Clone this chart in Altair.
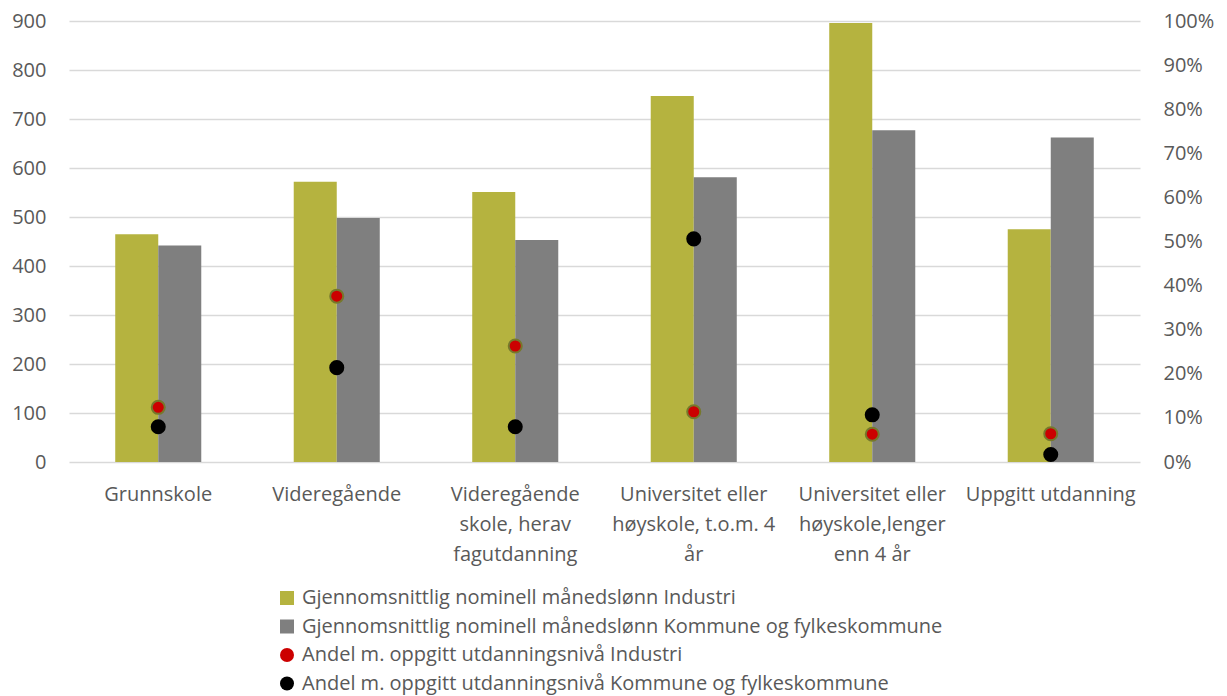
import altair as alt
import pandas as pd

category_lines = [
    ["Grunnskole"],
    ["Videregående"],
    ["Videregående", "skole, herav", "fagutdanning"],
    ["Universitet eller", "høyskole, t.o.m. 4", "år"],
    ["Universitet eller", "høyskole,lenger", "enn 4 år"],
    ["Uppgitt utdanning"],
]
categories = ["|".join(l) for l in category_lines]

lonn_industri = [465, 572, 551, 747, 896, 475]
lonn_kommune = [442, 498, 453, 581, 677, 662]
andel_industri = [0.124, 0.376, 0.263, 0.114, 0.063, 0.064]
andel_kommune = [0.080, 0.214, 0.080, 0.506, 0.107, 0.017]

series_names = [
    "Gjennomsnittlig nominell månedslønn Industri",
    "Gjennomsnittlig nominell månedslønn Kommune og fylkeskommune",
    "Andel m. oppgitt utdanningsnivå Industri",
    "Andel m. oppgitt utdanningsnivå Kommune og fylkeskommune",
]
series_colors = ["#B5B33F", "#7F7F7F", "#CC0000", "#000000"]
series_shapes = ["square", "square", "circle", "circle"]

left_ticks = list(range(0, 901, 100))
right_ticks = [i / 10 for i in range(11)]

bars = pd.DataFrame(
    [{"kategori": c, "serie": series_names[0], "verdi": v} for c, v in zip(categories, lonn_industri)]
    + [{"kategori": c, "serie": series_names[1], "verdi": v} for c, v in zip(categories, lonn_kommune)]
)
points = pd.DataFrame(
    [{"kategori": c, "serie": series_names[2], "andel": v} for c, v in zip(categories, andel_industri)]
    + [{"kategori": c, "serie": series_names[3], "andel": v} for c, v in zip(categories, andel_kommune)]
)

FONT = "Open Sans"
TXT = "#595959"

color_scale = alt.Scale(domain=series_names, range=series_colors)
shape_scale = alt.Scale(domain=series_names, range=series_shapes)

x_enc = alt.X(
    "kategori:N",
    sort=categories,
    scale=alt.Scale(paddingInner=0.518, paddingOuter=0.259),
    axis=alt.Axis(
        title=None,
        labelExpr="split(datum.value, '|')",
        labelAngle=0,
        labelFont=FONT,
        labelFontSize=20,
        labelColor=TXT,
        labelLineHeight=30,
        labelPadding=22,
        labelLimit=0,
        labelOverlap=False,
        ticks=False,
        domain=False,
    ),
)

legend = alt.Legend(
    title=None,
    orient="none",
    legendX=208,
    legendY=567,
    direction="vertical",
    labelFont=FONT,
    labelFontSize=20,
    labelColor=TXT,
    labelOffset=5,
    rowPadding=8.5,
    symbolSize=196,
    padding=0,
    labelLimit=0,
    symbolStrokeWidth=0,
)

bar_layer = alt.Chart(bars).mark_bar(width={"band": 1}).encode(
    x=x_enc,
    xOffset=alt.XOffset("serie:N", sort=series_names[:2]),
    y=alt.Y(
        "verdi:Q",
        scale=alt.Scale(domain=[0, 900], nice=False),
        axis=alt.Axis(
            title=None,
            values=left_ticks,
            labelFont=FONT,
            labelFontSize=20,
            labelColor=TXT,
            labelPadding=23,
            ticks=False,
            domain=False,
            grid=True,
            gridColor="#D9D9D9",
            gridWidth=1.3,
        ),
    ),
    color=alt.Color("serie:N", scale=color_scale, legend=legend),
)

point_layer = alt.Chart(points).mark_point(filled=True, size=170, opacity=1, strokeWidth=2).encode(
    x=x_enc,
    y=alt.Y(
        "andel:Q",
        scale=alt.Scale(domain=[0, 1], nice=False),
        axis=alt.Axis(
            title=None,
            orient="right",
            values=right_ticks,
            format=".0%",
            labelFont=FONT,
            labelFontSize=20,
            labelColor=TXT,
            labelPadding=23,
            ticks=False,
            domain=False,
            grid=False,
        ),
    ),
    color=alt.Color("serie:N", scale=color_scale, legend=legend),
    shape=alt.Shape("serie:N", scale=shape_scale, legend=legend),
    stroke=alt.condition(
        alt.datum.serie == series_names[2], alt.value("#76782C"), alt.value("#000000")
    ),
)

chart = (
    alt.layer(bar_layer, point_layer)
    .resolve_scale(y="independent")
    .properties(
        width=1071,
        height=441,
        autosize=alt.AutoSizeParams(type="none"),
        padding={"left": 69, "top": 21, "right": 87, "bottom": 234},
        background="white",
    )
    .configure_view(stroke=None)
)

chart.save("out.html", embed_options={"renderer": "svg", "actions": False})
